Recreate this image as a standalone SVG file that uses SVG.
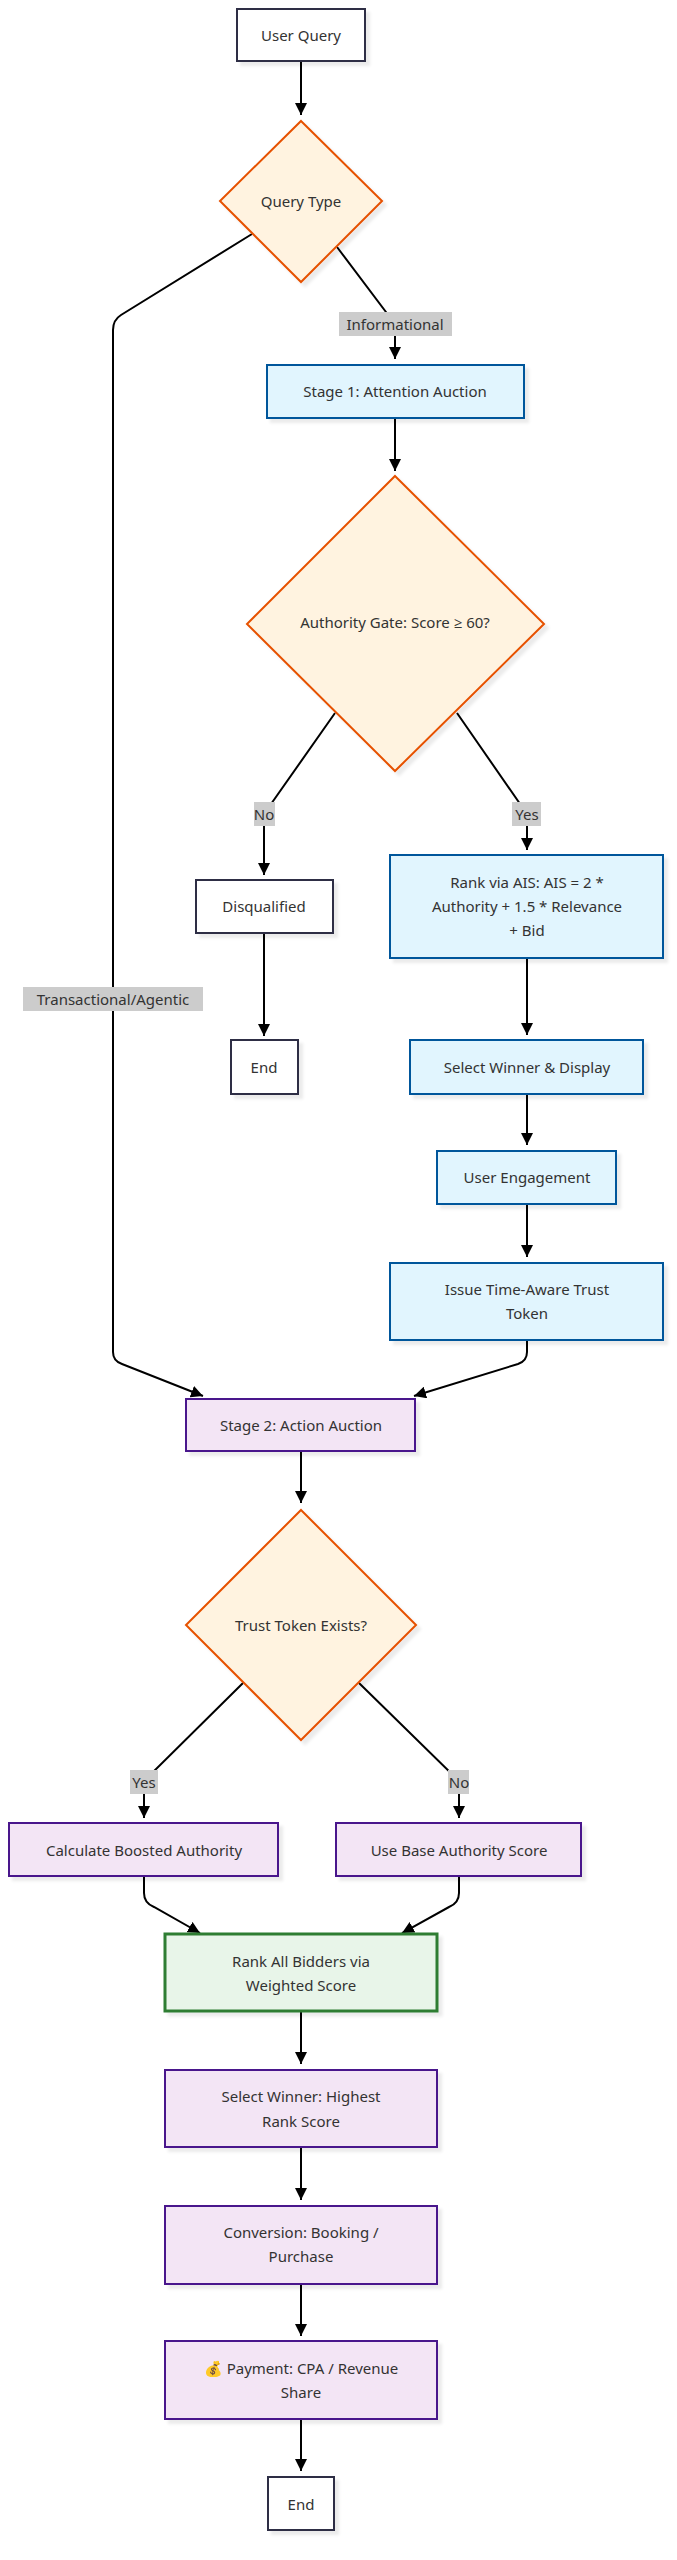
<svg xmlns="http://www.w3.org/2000/svg" width="677" height="2560" viewBox="0 0 677 2560">
<style>
text{font-family:"Noto Sans","Open Sans",sans-serif;font-size:15px;fill:#333;text-anchor:middle;dominant-baseline:central}
.n rect,.n polygon{stroke-width:2;filter:url(#sh)}
.def rect{fill:#fff;stroke:#2d2d44}
.dia polygon{fill:#fff3e0;stroke:#e65100}
.blue rect{fill:#e1f5fe;stroke:#01579b}
.pur rect{fill:#f3e5f5;stroke:#4a148c}
.grn rect{fill:#e8f5e9;stroke:#2e7d32;stroke-width:3}
#edges path{fill:none;stroke:#000;stroke-width:2;marker-end:url(#ar)}
.lbl rect{fill:#cccccc}
</style>
<defs>
<marker id="ar" viewBox="0 0 10 10" refX="10" refY="5" markerWidth="6" markerHeight="6" orient="auto" markerUnits="strokeWidth"><path d="M0,0 L10,5 L0,10 z" fill="#000"/></marker>
<filter id="sh" x="-10%" y="-10%" width="130%" height="130%"><feDropShadow dx="4" dy="4" stdDeviation="1.5" flood-color="#000" flood-opacity="0.08"/></filter>
</defs>
<rect width="677" height="2560" fill="#fff"/>
<g id="edges">
<path d="M301,61 L301,115"/>
<path d="M337,247 L395,324 L395,359"/>
<path d="M252,234 L121,315 Q113,320 113,330 L113,1352 Q113,1361 122,1364 L203,1396"/>
<path d="M395,418 L395,471"/>
<path d="M335,713 L264,814 L264,875"/>
<path d="M457,713 L527,814 L527,850"/>
<path d="M264,933 L264,1036"/>
<path d="M527,958 L527,1035"/>
<path d="M527,1094 L527,1145"/>
<path d="M527,1204 L527,1257"/>
<path d="M527,1340 L527,1352 Q527,1361 518,1364 L414,1396"/>
<path d="M301,1451 L301,1503"/>
<path d="M243,1683 L144,1781 L144,1818"/>
<path d="M359,1683 L459,1781 L459,1818"/>
<path d="M144,1876 L144,1893 Q144,1903 154,1907 L200,1933"/>
<path d="M459,1876 L459,1893 Q459,1903 449,1907 L402,1933"/>
<path d="M301,2011 L301,2064"/>
<path d="M301,2147 L301,2200"/>
<path d="M301,2284 L301,2336"/>
<path d="M301,2419 L301,2471"/>
</g>
<g id="labels">
<g class="lbl"><rect x="339" y="312" width="113" height="24"/><text x="395" y="324">Informational</text></g>
<g class="lbl"><rect x="23" y="987" width="180" height="24"/><text x="113" y="999">Transactional/Agentic</text></g>
<g class="lbl"><rect x="254" y="802" width="21" height="24"/><text x="264" y="814">No</text></g>
<g class="lbl"><rect x="512" y="802" width="29" height="24"/><text x="527" y="814">Yes</text></g>
<g class="lbl"><rect x="130" y="1770" width="28" height="24"/><text x="144" y="1782">Yes</text></g>
<g class="lbl"><rect x="448" y="1770" width="21" height="24"/><text x="459" y="1782">No</text></g>
</g>
<g id="userQuery" class="n def"><rect x="237" y="9" width="128" height="52"/><text x="301" y="35">User Query</text></g>
<g id="queryType" class="n dia"><polygon points="301,121 382,201 301,282 220,201"/><text x="301" y="201">Query Type</text></g>
<g id="stage1" class="n blue"><rect x="267" y="365" width="257" height="53"/><text x="395" y="391">Stage 1: Attention Auction</text></g>
<g id="authGate" class="n dia"><polygon points="395,476 544,624 395,771 247,624"/><text x="395" y="622">Authority Gate: Score ≥ 60?</text></g>
<g id="disq" class="n def"><rect x="196" y="880" width="137" height="53"/><text x="264" y="906">Disqualified</text></g>
<g id="end1" class="n def"><rect x="231" y="1040" width="67" height="54"/><text x="264" y="1067">End</text></g>
<g id="rankAIS" class="n blue"><rect x="390" y="855" width="273" height="103"/><text x="527" y="882">Rank via AIS: AIS = 2 *</text><text x="527" y="906">Authority + 1.5 * Relevance</text><text x="527" y="930">+ Bid</text></g>
<g id="selectDisplay" class="n blue"><rect x="410" y="1040" width="233" height="54"/><text x="527" y="1067">Select Winner &amp; Display</text></g>
<g id="engagement" class="n blue"><rect x="437" y="1151" width="179" height="53"/><text x="527" y="1177">User Engagement</text></g>
<g id="issueToken" class="n blue"><rect x="390" y="1263" width="273" height="77"/><text x="527" y="1289">Issue Time-Aware Trust</text><text x="527" y="1313">Token</text></g>
<g id="stage2" class="n pur"><rect x="186" y="1399" width="229" height="52"/><text x="301" y="1425">Stage 2: Action Auction</text></g>
<g id="trustToken" class="n dia"><polygon points="301,1510 416,1625 301,1740 186,1625"/><text x="301" y="1625">Trust Token Exists?</text></g>
<g id="boosted" class="n pur"><rect x="9" y="1823" width="269" height="53"/><text x="144" y="1850">Calculate Boosted Authority</text></g>
<g id="base" class="n pur"><rect x="336" y="1823" width="245" height="53"/><text x="459" y="1850">Use Base Authority Score</text></g>
<g id="rankAll" class="n grn"><rect x="165" y="1934" width="272" height="77"/><text x="301" y="1961">Rank All Bidders via</text><text x="301" y="1985">Weighted Score</text></g>
<g id="selectWinner" class="n pur"><rect x="165" y="2070" width="272" height="77"/><text x="301" y="2096">Select Winner: Highest</text><text x="301" y="2121">Rank Score</text></g>
<g id="conversion" class="n pur"><rect x="165" y="2206" width="272" height="78"/><text x="301" y="2232">Conversion: Booking /</text><text x="301" y="2256">Purchase</text></g>
<g id="payment" class="n pur"><rect x="165" y="2341" width="272" height="78"/><text x="301" y="2368">💰 Payment: CPA / Revenue</text><text x="301" y="2392">Share</text></g>
<g id="end2" class="n def"><rect x="268" y="2477" width="66" height="53"/><text x="301" y="2504">End</text></g>
</svg>
